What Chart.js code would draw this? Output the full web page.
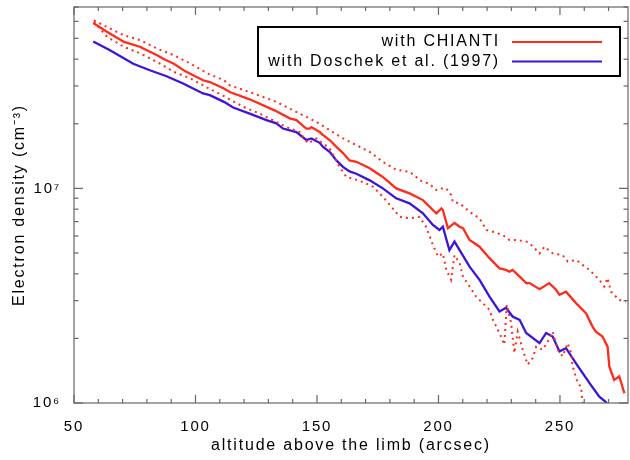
<!DOCTYPE html>
<html>
<head>
<meta charset="utf-8">
<script src="https://cdn.jsdelivr.net/npm/chart.js@4.4.1/dist/chart.umd.min.js"></script>
<style>
  html, body { margin: 0; padding: 0; background: #fff; }
  #wrap { width: 630px; height: 460px; }
</style>
</head>
<body>
<div id="wrap"><canvas id="c" width="630" height="460"></canvas></div>
<script>
// values; densities in units of 1e6 cm^-3
const chiantiX  = [57.9, 63.7, 70.6, 77.4, 78.5, 84.2, 86.7, 91.1, 96.0, 103.1, 105.9, 111.7, 114.1, 122.3, 132.5, 138.8, 141.5, 145.6, 147.0, 147.7, 151.1, 152.5, 155.2, 158.0, 160.7, 163.4, 166.2, 171.7, 177.1, 182.6, 188.1, 193.6, 197.7, 199.1, 201.2, 201.8, 203.9, 206.6, 208.7, 210.1, 212.8, 216.9, 221.0, 225.1, 227.8, 229.2, 230.5, 232.0, 233.4, 236.1, 237.5, 241.6, 245.6, 248.4, 249.8, 252.5, 256.6, 260.7, 263.4, 264.8, 267.5, 269.6, 270.3, 272.3, 274.4, 276.5];
const chiantiNe = [59.0, 53.5, 48.1, 45.6, 44.8, 41.7, 40.2, 38.1, 35.0, 31.9, 31.3, 29.2, 28.1, 26.0, 23.1, 21.2, 20.8, 19.0, 19.0, 19.3, 18.3, 17.7, 16.8, 15.6, 14.6, 13.5, 13.3, 12.4, 11.3, 10.0, 9.48, 8.82, 7.93, 7.65, 8.07, 7.93, 6.52, 6.90, 6.63, 6.52, 5.75, 5.35, 4.73, 4.24, 4.17, 4.09, 4.17, 4.02, 3.88, 3.62, 3.62, 3.39, 3.62, 3.37, 3.19, 3.30, 2.92, 2.62, 2.27, 2.15, 2.04, 1.83, 1.48, 1.28, 1.33, 1.11];

const upperX  = [58.2, 63.7, 70.6, 77.4, 84.2, 91.1, 98.0, 105.0, 111.7, 114.1, 122.3, 133.3, 141.5, 149.8, 156.5, 160.7, 163.4, 166.2, 171.7, 177.1, 182.6, 188.1, 193.0, 196.3, 199.1, 200.4, 203.2, 205.2, 205.9, 208.7, 212.8, 216.9, 219.7, 222.4, 226.5, 229.2, 232.0, 236.1, 237.5, 241.6, 243.6, 247.0, 251.1, 253.2, 256.6, 259.3, 262.1, 266.2, 268.2, 269.6, 271.0, 274.4, 277.2];
const upperNe = [60.6, 56.4, 51.6, 49.0, 44.8, 41.7, 38.1, 34.3, 31.9, 30.2, 28.1, 25.3, 22.7, 20.4, 18.3, 17.1, 16.5, 15.9, 14.8, 13.3, 12.2, 11.95, 10.8, 10.5, 9.82, 10.0, 10.0, 9.31, 8.66, 8.52, 7.78, 7.25, 6.40, 6.28, 6.06, 5.75, 5.75, 5.65, 5.55, 4.98, 5.35, 4.98, 4.89, 4.56, 4.64, 4.40, 4.17, 3.75, 3.49, 3.82, 3.30, 3.02, 2.97];

const lowerX  = [58.2, 63.7, 70.6, 77.4, 84.2, 91.1, 98.0, 104.8, 111.7, 119.6, 126.5, 137.4, 142.9, 146.3, 149.8, 155.2, 159.3, 162.1, 164.8, 168.9, 173.0, 177.1, 180.6, 184.0, 188.1, 192.2, 195.0, 197.7, 199.8, 201.8, 203.2, 205.2, 206.6, 208.7, 210.1, 212.8, 215.5, 218.2, 221.0, 222.4, 225.1, 227.1, 228.1, 229.9, 231.2, 232.6, 234.7, 236.7, 238.8, 240.2, 242.9, 244.9, 247.0, 249.1, 251.1, 253.2, 254.6, 255.2, 257.3, 258.7, 259.3, 260.4];
const lowerNe = [59.8, 50.7, 45.6, 42.5, 38.8, 34.9, 32.5, 29.5, 26.9, 24.0, 22.3, 19.3, 18.3, 16.2, 17.1, 15.35, 12.6, 11.3, 11.1, 10.7, 10.2, 9.14, 8.21, 7.38, 7.25, 7.35, 6.60, 5.45, 4.81, 4.98, 4.17, 3.75, 4.89, 4.48, 3.88, 3.49, 3.13, 2.92, 2.72, 2.44, 2.12, 1.87, 2.87, 2.36, 1.71, 2.15, 1.77, 1.51, 1.62, 1.83, 1.77, 1.93, 2.15, 1.77, 1.65, 1.90, 1.71, 1.48, 1.24, 1.19, 1.00, 0.92];

const doschekX  = [57.9, 64.8, 74.4, 81.2, 88.1, 94.9, 103.1, 105.9, 111.7, 115.5, 122.3, 129.2, 133.3, 136.0, 141.5, 145.6, 147.7, 151.1, 152.5, 155.2, 158.0, 160.7, 163.4, 166.2, 171.7, 177.1, 182.6, 188.1, 193.6, 197.7, 200.4, 201.8, 204.5, 206.6, 208.7, 212.8, 216.9, 221.0, 225.1, 227.8, 230.5, 233.4, 236.1, 241.6, 244.3, 247.0, 249.8, 252.5, 256.6, 262.1, 266.2, 268.9, 271.1];
const doschekNe = [48.4, 44.0, 38.1, 35.5, 33.3, 30.8, 27.7, 27.2, 25.3, 23.8, 22.3, 20.8, 20.1, 19.0, 18.3, 16.8, 17.1, 16.3, 15.6, 14.8, 13.5, 12.6, 12.0, 11.7, 10.9, 10.0, 8.99, 8.52, 7.65, 6.75, 6.40, 6.63, 5.16, 5.65, 5.16, 4.32, 3.75, 3.13, 2.67, 2.78, 2.53, 2.44, 2.12, 1.90, 2.12, 2.04, 1.74, 1.80, 1.53, 1.24, 1.07, 1.01, 0.93];

const legendLabels = ['with CHIANTI', 'with Doschek et al. (1997)'];

const xMajorTicks = [50, 100, 150, 200, 250];
const xMinorTicks = [60, 70, 80, 90, 110, 120, 130, 140, 160, 170, 180, 190, 210, 220, 230, 240, 260, 270];
const yMajorTicks = [1e6, 1e7];
const yTickLabels = ['10\u2076', '10\u2077'];
const yMinorTicks = [2e6, 3e6, 4e6, 5e6, 6e6, 7e6, 8e6, 9e6, 2e7, 3e7, 4e7, 5e7, 6e7, 7e7];

const RED = '#ff2b1c';
const BLUE = '#3c14dc';
const FONT = '"Liberation Sans", Arial, sans-serif';

function toPoints(xs, ne) {
    return xs.map((x, i) => ({ x: x, y: ne[i] * 1e6 }));
}

// IDL style tracking on all text
const spacing = {
    id: 'spacing',
    beforeLayout(chart) { chart.ctx.letterSpacing = '1.8px'; },
    beforeDraw(chart) { chart.ctx.letterSpacing = '1.8px'; },
};

// box frame with inward ticks on all four sides
const frameTicks = {
    id: 'frameTicks',
    afterDraw(chart) {
        const { ctx, chartArea: a, scales: { x, y } } = chart;
        ctx.save();
        ctx.strokeStyle = '#666';
        ctx.lineWidth = 1.2;
        ctx.strokeRect(a.left, a.top, a.right - a.left, a.bottom - a.top);
        const seg = (x0, y0, x1, y1) => {
            ctx.beginPath();
            ctx.moveTo(x0, y0);
            ctx.lineTo(x1, y1);
            ctx.stroke();
        };
        const xt = (v, len) => {
            const px = x.getPixelForValue(v);
            seg(px, a.bottom, px, a.bottom - len);
            seg(px, a.top, px, a.top + len);
        };
        const yt = (v, len) => {
            const py = y.getPixelForValue(v);
            seg(a.left, py, a.left + len, py);
            seg(a.right, py, a.right - len, py);
        };
        xMajorTicks.forEach(v => xt(v, 8));
        xMinorTicks.forEach(v => xt(v, 4));
        yMajorTicks.forEach(v => yt(v, 9));
        yMinorTicks.forEach(v => yt(v, 4.5));
        ctx.restore();
    }
};

const boxLegend = {
    id: 'boxLegend',
    afterDraw(chart) {
        const ctx = chart.ctx;
        const colors = [RED, BLUE];
        ctx.save();
        ctx.fillStyle = '#fff';
        ctx.fillRect(258, 27, 362, 49);
        ctx.strokeStyle = '#000';
        ctx.lineWidth = 2;
        ctx.strokeRect(258, 27, 362, 49);
        ctx.font = '16px ' + FONT;
        ctx.fillStyle = '#000';
        ctx.textAlign = 'right';
        ctx.textBaseline = 'middle';
        legendLabels.forEach((label, i) => {
            const ly = 42 + i * 19.5;
            ctx.fillText(label, 500, ly);
            ctx.strokeStyle = colors[i];
            ctx.lineWidth = 2;
            ctx.beginPath();
            ctx.moveTo(512, ly);
            ctx.lineTo(602, ly);
            ctx.stroke();
        });
        ctx.restore();
    }
};

const lineBase = { pointRadius: 0, tension: 0, fill: false, clip: 0 };

new Chart(document.getElementById('c'), {
    type: 'line',
    data: {
        datasets: [
            Object.assign({ label: 'upper', data: toPoints(upperX, upperNe), borderColor: RED, borderWidth: 2, borderDash: [2, 4] }, lineBase),
            Object.assign({ label: 'lower', data: toPoints(lowerX, lowerNe), borderColor: RED, borderWidth: 2, borderDash: [2, 4] }, lineBase),
            Object.assign({ label: legendLabels[0], data: toPoints(chiantiX, chiantiNe), borderColor: RED, borderWidth: 2.3 }, lineBase),
            Object.assign({ label: legendLabels[1], data: toPoints(doschekX, doschekNe), borderColor: BLUE, borderWidth: 2.3 }, lineBase),
        ],
    },
    options: {
        responsive: false,
        animation: false,
        devicePixelRatio: 1,
        layout: { padding: { left: 0, top: 7, right: 2, bottom: 0 } },
        plugins: {
            legend: { display: false },
            tooltip: { enabled: false },
        },
        scales: {
            x: {
                type: 'linear',
                min: 50,
                max: 278,
                afterBuildTicks: (s) => { s.ticks = xMajorTicks.map(v => ({ value: v })); },
                afterFit: (s) => { s.height = 57; },
                grid: { display: false },
                border: { display: false },
                ticks: { color: '#000', font: { family: FONT, size: 15 }, padding: 7, maxRotation: 0 },
                title: {
                    display: true,
                    text: 'altitude above the limb (arcsec)',
                    color: '#000',
                    font: { family: FONT, size: 16 },
                    padding: { top: 0, bottom: 5 },
                },
            },
            y: {
                type: 'logarithmic',
                min: 1e6,
                max: 7e7,
                afterBuildTicks: (s) => { s.ticks = yMajorTicks.map(v => ({ value: v })); },
                afterFit: (s) => { s.width = 74; s.paddingTop = 0; },
                grid: { display: false },
                border: { display: false },
                ticks: {
                    color: '#000',
                    font: { family: FONT, size: 15 },
                    padding: 5,
                    callback: (v, i) => yTickLabels[i],
                },
                title: {
                    display: true,
                    text: 'Electron density (cm\u207B\u00B3)',
                    color: '#000',
                    font: { family: FONT, size: 16 },
                    padding: { top: 10, bottom: 0 },
                },
            },
        },
    },
    plugins: [spacing, frameTicks, boxLegend],
});
</script>
</body>
</html>
